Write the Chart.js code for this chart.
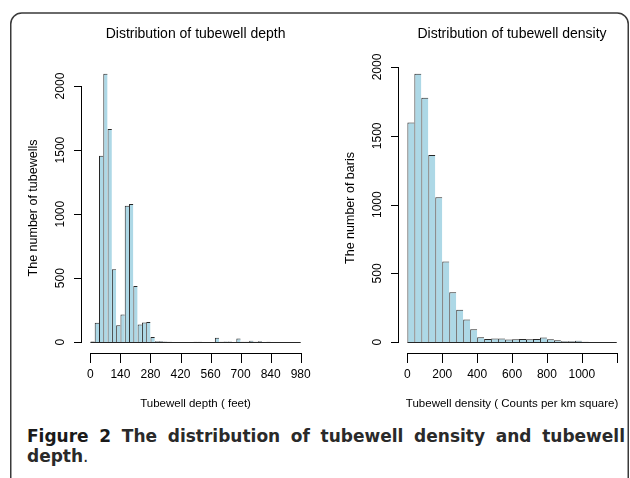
<!DOCTYPE html>
<html>
<head>
<meta charset="utf-8">
<script src="https://cdn.jsdelivr.net/npm/chart.js@4.4.0/dist/chart.umd.min.js"></script>
<style>
    body { margin: 0; background: #fff; }
    #page { position: relative; width: 630px; height: 478px; overflow: hidden; background: #fff; }
    #frame { position: absolute; left: 0; top: 0; }
    canvas { position: absolute; top: 0; }
    #chart1 { left: 0; }
    #chart2 { left: 315px; }
    #caption {
        position: absolute; left: 27px; width: 598px; top: 426px;
        font-family: 'DejaVu Sans', sans-serif; font-size: 17px; line-height: 20px;
        font-weight: 700; color: #2a2a2a;
    }
    #caption .l1 { text-align: justify; text-align-last: justify; }
    #caption b { color: #1a1a1a; }
    #caption .dot { font-weight: 400; }
</style>
</head>
<body>
<div id="page">
    <svg id="frame" width="630" height="478">
        <path d="M10.75 478 V24 A11 11 0 0 1 21.75 13 H617.25 A11 11 0 0 1 628.25 24 V478"
              fill="none" stroke="#3a3a3a" stroke-width="1.5"/>
    </svg>
    <canvas id="chart1" width="315" height="420"></canvas>
    <canvas id="chart2" width="315" height="420"></canvas>
    <div id="caption">
        <div class="l1"><b>Figure 2</b> The distribution of tubewell density and tubewell</div>
        <div>depth<span class="dot">.</span></div>
    </div>
</div>
<script>
// histogram bins (breaks) and counts
const depthBreaks = Array.from({ length: 50 }, (_, i) => i * 20);      // 0..980 feet
const depthCounts = [
    5, 153, 1455, 2096, 1664, 570, 133, 216, 1065, 1080,
    440, 138, 154, 159, 41, 8, 7, 6, 3, 2,
    2, 1, 2, 1, 3, 4, 1, 2, 2, 36,
    3, 6, 6, 2, 30, 3, 4, 11, 3, 7,
    1, 3, 1, 1, 1, 0, 1, 1, 2
];
const depthTicks = [0, 140, 280, 420, 560, 700, 840, 980];

const densityBreaks = Array.from({ length: 31 }, (_, i) => i * 40);   // 0..1200
const densityCounts = [
    1597, 1951, 1777, 1360, 1054, 586, 363, 237, 165, 94,
    36, 23, 27, 27, 20, 22, 23, 22, 23, 34,
    22, 15, 8, 7, 11, 3, 2, 1, 1, 1
];
const densityTicks = [0, 200, 400, 600, 800, 1000, 1200];
const densityTickLabels = ['0', '200', '400', '600', '800', '1000', ''];

const countTicks = [0, 500, 1000, 1500, 2000];

const FONT = "'Liberation Sans', Arial, sans-serif";

// R style axes, labels and titles drawn from the chart scales
const rAxes = {
    id: 'rAxes',
    afterDraw(chart, args, o) {
        const ctx = chart.ctx;
        const xs = chart.scales.x;
        const ys = chart.scales.y;
        const a = chart.chartArea;
        const ay = Math.round(xs.getPixelForValue(o.usrMin));
        const ax = Math.round(a.bottom);
        ctx.save();
        ctx.fillStyle = '#000';

        // x axis: line and ticks
        const xL = Math.round(xs.getPixelForValue(o.xTicks[0]));
        const xR = Math.round(xs.getPixelForValue(o.xTicks[o.xTicks.length - 1]));
        ctx.fillRect(xL, ax, xR - xL + 1, 1);
        o.xTicks.forEach((v) => {
            ctx.fillRect(Math.round(xs.getPixelForValue(v)), ax, 1, 10);
        });

        // outline of the empty bins along zero
        ctx.fillStyle = '#262626';
        const x0 = xs.getPixelForValue(o.breaks[0]);
        const x1 = xs.getPixelForValue(o.breaks[o.breaks.length - 1]);
        ctx.fillRect(x0, Math.round(ys.getPixelForValue(0)), x1 - x0, 1);

        // tick labels
        ctx.fillStyle = '#000';
        ctx.font = '12px ' + FONT;
        ctx.textAlign = 'center';
        ctx.textBaseline = 'middle';
        o.xTicks.forEach((v, i) => {
            ctx.fillText(o.xLabels[i], xs.getPixelForValue(v), ax + 21.5);
        });
        countTicks.forEach((v) => {
            ctx.save();
            ctx.translate(ay - 21.5, ys.getPixelForValue(v));
            ctx.rotate(-Math.PI / 2);
            ctx.fillText(String(v), 0, 0);
            ctx.restore();
        });

        // titles
        const cx = (ay + a.right) / 2;
        ctx.font = '14px ' + FONT;
        ctx.fillText(o.mainTitle, cx, 34.5);
        ctx.font = '11.5px ' + FONT;
        ctx.fillText(o.xTitle, cx, ax + 51);
        ctx.save();
        ctx.translate(ay - 48.5, (a.top + a.bottom) / 2);
        ctx.rotate(-Math.PI / 2);
        ctx.font = '12.5px ' + FONT;
        ctx.fillText(o.yTitle, 0, 0);
        ctx.restore();

        // y axis: line and ticks
        const yTop = Math.round(ys.getPixelForValue(countTicks[countTicks.length - 1]));
        const yBot = Math.round(ys.getPixelForValue(countTicks[0]));
        ctx.fillStyle = '#000';
        ctx.fillRect(ay - 1, yTop, 1, yBot - yTop + 1);
        countTicks.forEach((v) => {
            ctx.fillRect(ay - 8, Math.round(ys.getPixelForValue(v)), 8, 1);
        });

        ctx.restore();
    }
};

// area: chart area left/right in canvas px, axisX: where the R y axis sits
function histograma(canvasId, breaks, counts, area, axes) {
    const puntos = counts.map((c, i) => ({ x: (breaks[i] + breaks[i + 1]) / 2, y: c }));
    const xMin = breaks[0], xMax = breaks[breaks.length - 1];
    const usrMin = xMin - 0.04 * (xMax - xMin);
    const usrMax = xMax + 0.04 * (xMax - xMin);
    // stretch the scale to the left so the y axis lies inside the chart area
    const f = (area.axisX - area.left) / (area.right - area.left);
    const scaleMin = (usrMin - f * usrMax) / (1 - f);
    const yMax = Math.max(...counts);

    const config = {
        type: 'bar',
        data: {
            datasets: [{
                data: puntos,
                backgroundColor: '#add8e6',
                borderColor: '#262626',
                borderWidth: { top: 1, left: 1, right: 0, bottom: 0 },
                barPercentage: 1,
                categoryPercentage: 1,
                inflateAmount: 0
            }]
        },
        options: {
            responsive: false,
            animation: false,
            devicePixelRatio: 1,
            layout: { padding: { left: area.left, right: 315 - area.right, top: 63, bottom: 67 } },
            plugins: {
                legend: { display: false },
                tooltip: { enabled: false },
                rAxes: Object.assign({ breaks: breaks, usrMin: usrMin }, axes)
            },
            scales: {
                x: {
                    type: 'linear',
                    display: false,
                    offset: false,
                    min: scaleMin,
                    max: usrMax
                },
                y: {
                    type: 'linear',
                    display: false,
                    min: -0.04 * yMax,
                    max: 1.04 * yMax
                }
            }
        },
        plugins: [rAxes]
    };

    const canva = document.getElementById(canvasId);
    return new Chart(canva, config);
}

histograma('chart1', depthBreaks, depthCounts,
    { left: 20, right: 309.1, axisX: 82 },
    {
        xTicks: depthTicks,
        xLabels: depthTicks.map(String),
        mainTitle: 'Distribution of tubewell depth',
        xTitle: 'Tubewell depth ( feet)',
        yTitle: 'The number of tubewells'
    });

histograma('chart2', densityBreaks, densityCounts,
    { left: 22, right: 310.1, axisX: 84 },
    {
        xTicks: densityTicks,
        xLabels: densityTickLabels,
        mainTitle: 'Distribution of tubewell density',
        xTitle: 'Tubewell density ( Counts per km square)',
        yTitle: 'The number of baris'
    });
</script>
</body>
</html>
